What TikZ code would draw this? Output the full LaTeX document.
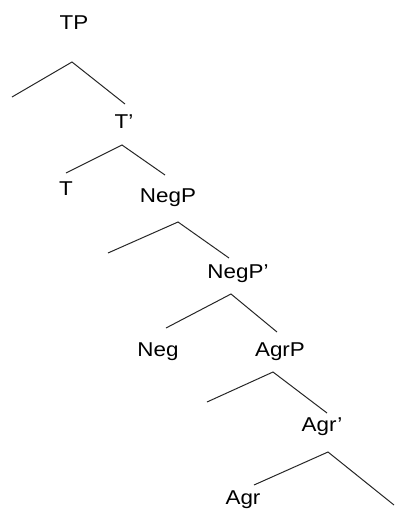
\documentclass[tikz,border=0pt]{standalone}
\usepackage{fontspec}
\setmainfont{Liberation Sans}[FakeStretch=1.12]
\usetikzlibrary{positioning}

\begin{document}
\begin{tikzpicture}[x=1pt, y=-1pt,
  cat/.style={anchor=base, inner sep=0pt, font=\fontsize{20}{24}\selectfont},
  branch/.style={draw=black!85, line width=1pt}
]
\useasboundingbox (0,0) rectangle (394,509);
% category labels
\node[cat] (tp) at (74,29) {TP};
\node[cat] (tbar) at (124,128) {T'};
\node[cat] (t) at (66,195) {T};
\node[cat] (negp) at (168,202) {NegP};
\node[cat] (negbar) at (238,278) {NegP'};
\node[cat] (neg) at (158,356) {Neg};
\node[cat] (agrp) at (280,356) {AgrP};
\node[cat] (agrbar) at (322,431) {Agr'};
\node[cat] (agr) at (243,504) {Agr};
% branch points
\coordinate (tp-top) at (72,62);   \coordinate (tp-l) at (12,97);   \coordinate (tp-r) at (125,104);
\coordinate (tbar-top) at (122,145); \coordinate (tbar-l) at (66,173); \coordinate (tbar-r) at (165,175);
\coordinate (negp-top) at (178,222); \coordinate (negp-l) at (108,253); \coordinate (negp-r) at (229,258);
\coordinate (negbar-top) at (231,294); \coordinate (negbar-l) at (166,328); \coordinate (negbar-r) at (277,332);
\coordinate (agrp-top) at (273,372); \coordinate (agrp-l) at (207,402); \coordinate (agrp-r) at (327,413);
\coordinate (agrbar-top) at (328,452); \coordinate (agrbar-l) at (254,485); \coordinate (agrbar-r) at (394,505);
% branches
\foreach \p in {tp,tbar,negp,negbar,agrp,agrbar}
  \draw[branch] (\p-l) -- (\p-top) -- (\p-r);
\end{tikzpicture}
\end{document}
